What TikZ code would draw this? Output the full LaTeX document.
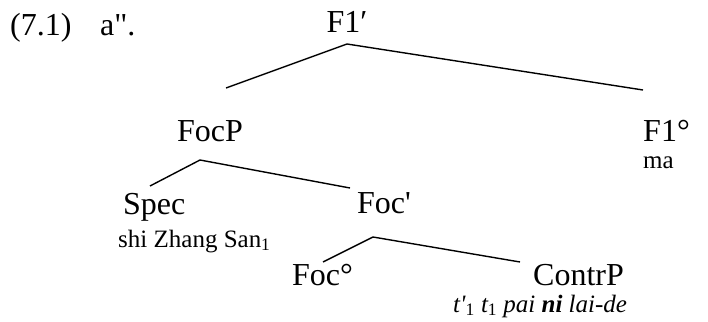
\documentclass[tikz,border=0pt]{standalone}
\usepackage{fontspec}
\setmainfont{Liberation Serif}
\begin{document}
\begin{tikzpicture}[x=1pt,y=-1pt,
  big/.style={inner sep=0pt, anchor=base west, font=\fontsize{32}{36}\selectfont},
  bigc/.style={big, anchor=base},
  small/.style={inner sep=0pt, anchor=base west, font=\fontsize{25}{30}\selectfont},
  branch/.style={line width=1.4pt, line join=round}]
\useasboundingbox (0,0) rectangle (708,321);
% labels
\node[big] (ex) at (10,35) {(7.1)};
\node[big] (sub) at (100,35) {a\textquotedbl.};
\node[bigc] (F1bar) at (347,33) {F1′};
\node[bigc] (FocP) at (210,141) {FocP};
\node[big] (F1zero) at (643,141) {F1°};
\node[small] (ma) at (643,168) {ma};
\node[big] (Spec) at (123,214) {Spec};
\node[small] (shi) at (118,247) {shi Zhang San\textsubscript{1}};
\node[big] (Focbar) at (357,213) {Foc\textquotesingle};
\node[big] (Foczero) at (292,285) {Foc°};
\node[big] (ContrP) at (533,285) {ContrP};
\node[small] (trace) at (453,312) {\itshape t\textquotesingle\textsubscript{\upshape 1} t\textsubscript{\upshape 1} pai \textbf{ni} lai-de};
% branch points
\coordinate (a1) at (347,44);
\coordinate (l1) at (226,88);
\coordinate (r1) at (643,90);
\coordinate (a2) at (200,160);
\coordinate (l2) at (150,186);
\coordinate (r2) at (350,188);
\coordinate (a3) at (373,237);
\coordinate (l3) at (323,262);
\coordinate (r3) at (520,262);
\draw[branch] (l1) -- (a1) -- (r1);
\draw[branch] (l2) -- (a2) -- (r2);
\draw[branch] (l3) -- (a3) -- (r3);
\end{tikzpicture}
\end{document}
